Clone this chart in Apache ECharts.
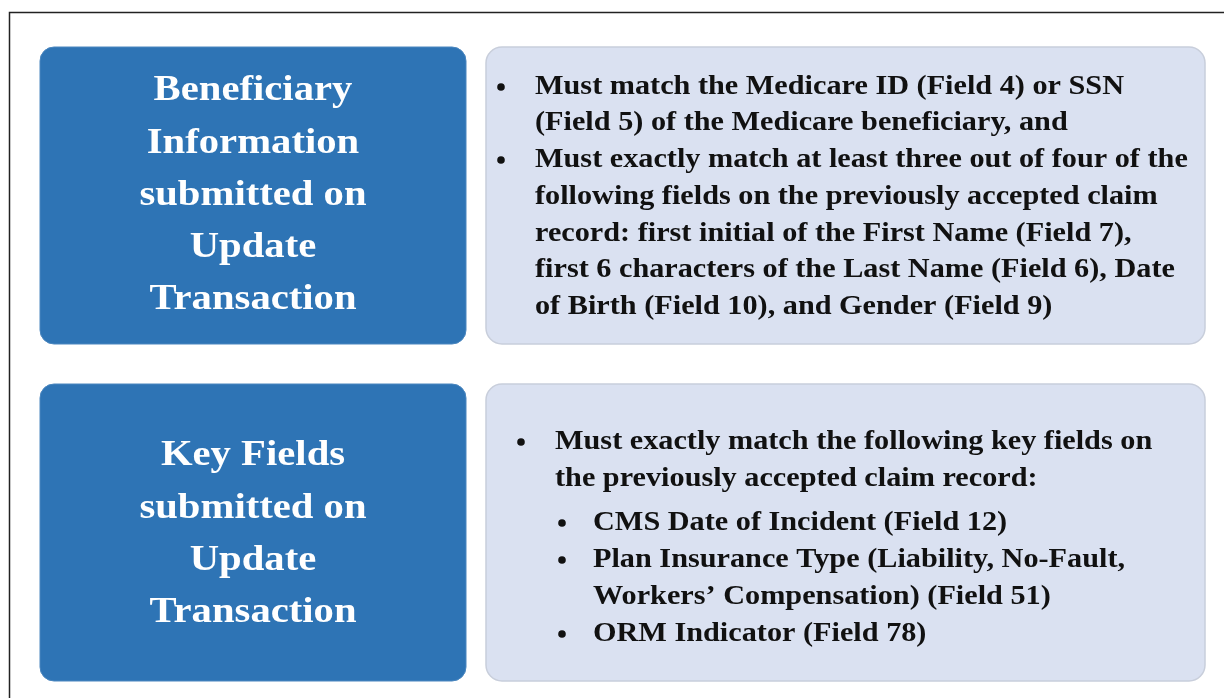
<!DOCTYPE html>
<html><head><meta charset="utf-8">
<script src="https://cdn.jsdelivr.net/npm/echarts@6/dist/echarts.min.js"></script>
<style>html,body{margin:0;padding:0;background:#fff}#c{width:1224px;height:698px}</style>
</head><body><div id="c"></div>
<script>
var titles1 = ["Beneficiary", "Information", "submitted on", "Update", "Transaction"];
var titles2 = ["Key Fields", "submitted on", "Update", "Transaction"];
var box1Lines = [
  {b:true, t:"Must match the Medicare ID (Field 4) or SSN"},
  {b:false, t:"(Field 5) of the Medicare beneficiary, and"},
  {b:true, t:"Must exactly match at least three out of four of the"},
  {b:false, t:"following fields on the previously accepted claim"},
  {b:false, t:"record: first initial of the First Name (Field 7),"},
  {b:false, t:"first 6 characters of the Last Name (Field 6), Date"},
  {b:false, t:"of Birth (Field 10), and Gender (Field 9)"}
];
var box2Lines = [
  {lvl:0, b:true, t:"Must exactly match the following key fields on"},
  {lvl:0, b:false, t:"the previously accepted claim record:"},
  {lvl:1, b:true, t:"CMS Date of Incident (Field 12)"},
  {lvl:1, b:true, t:"Plan Insurance Type (Liability, No-Fault,"},
  {lvl:1, b:false, t:"Workers\u2019 Compensation) (Field 51)"},
  {lvl:1, b:true, t:"ORM Indicator (Field 78)"}
];
var box1Y = [87, 123, 160, 197, 234, 270, 307];
var box2Y = [442, 479, 523, 560, 597, 634];

var chart = echarts.init(document.getElementById('c'));
var FF = '"Liberation Serif", "Times New Roman", serif';
var g = [];
g.push({type:'rect', shape:{x:9.5, y:12.5, width:1300, height:800}, style:{fill:'#fff', stroke:'#222', lineWidth:1.5}, silent:true});
function blue(y){ g.push({type:'rect', shape:{x:40, y:y, width:426, height:297, r:14}, style:{fill:'#2E74B5', stroke:'#4a86bf', lineWidth:1}}); }
function light(y){ g.push({type:'rect', shape:{x:486, y:y, width:719, height:297, r:16}, style:{fill:'#DAE1F1', stroke:'#c8cedb', lineWidth:1.5}}); }
blue(47); light(47); blue(384); light(384);
function title(lines, y0){
  lines.forEach(function(t,i){
    g.push({type:'text', x:253, y:y0+i*52.3, scaleX:1.13, style:{x:0, y:0, text:t, fill:'#fff', font:'bold 36px '+FF, textAlign:'center', textVerticalAlign:'middle'}});
  });
}
title(titles1, 91);
title(titles2, 456);
function txt(x,y,t){ g.push({type:'text', x:x, y:y, scaleX:1.12, style:{x:0, y:0, text:t, fill:'#111', font:'bold 27px '+FF, textAlign:'left', textVerticalAlign:'middle'}}); }
function bullet(x,y){ g.push({type:'circle', shape:{cx:x, cy:y, r:3.8}, style:{fill:'#111'}}); }
box1Lines.forEach(function(l,i){ if(l.b) bullet(501, box1Y[i]); txt(535, box1Y[i], l.t); });
box2Lines.forEach(function(l,i){
  var bx = l.lvl ? 562 : 521, tx = l.lvl ? 593 : 555;
  if(l.b) bullet(bx, box2Y[i]); txt(tx, box2Y[i], l.t);
});
chart.setOption({animation:false, graphic:g});
</script></body></html>
